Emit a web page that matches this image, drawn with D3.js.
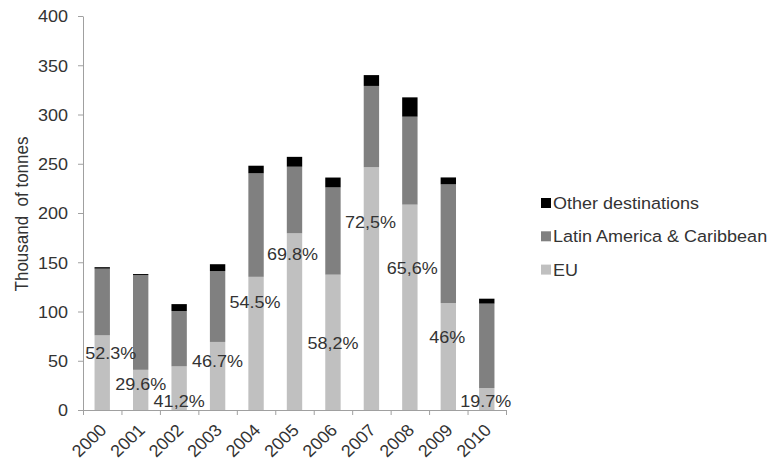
<!DOCTYPE html>
<html>
<head>
<meta charset="utf-8">
<script src="https://cdn.jsdelivr.net/npm/d3@7"></script>
<style>
  html, body { margin: 0; padding: 0; background: #fff; }
  svg { display: block; }
  text { font-family: "Liberation Sans", Arial, sans-serif; fill: #333; }
</style>
</head>
<body>
<svg id="chart" width="772" height="463"></svg>
<script>
// Exports by destination, thousand tonnes
const years = ["2000", "2001", "2002", "2003", "2004", "2005", "2006", "2007", "2008", "2009", "2010"];
const euValues = [75.8, 40.8, 44.3, 69.1, 135.2, 179.4, 137.4, 246.5, 208.5, 108.6, 22.3];
const latinValues = [67.7, 96.2, 56.2, 71.9, 105.1, 67.6, 88.6, 82.5, 89.3, 120.5, 85.7];
const otherValues = [1.5, 1.0, 7.0, 7.0, 7.7, 10.0, 10.0, 11.0, 19.6, 7.0, 5.0];
// EU share of each year's total, as printed on the bars
const shareLabels = ["52.3%", "29.6%", "41,2%", "46.7%", "54.5%", "69.8%", "58,2%", "72,5%", "65,6%", "46%", "19.7%"];
const yTicks = [0, 50, 100, 150, 200, 250, 300, 350, 400];
const seriesNames = ["EU", "Latin America & Caribbean", "Other destinations"];

// where each share label sits (value units on the y axis, pixel nudge in x)
const labelLevel = [57.4, 26.4, 9.1, 49.4, 109.6, 158.6, 68, 190.7, 144.4, 74.4, 9.3];
const labelNudge = [8.6, 0, 0, 0, -1, -2, 0, -1, 2.4, -1, -1];

const colors = { "EU": "#c0c0c0", "Latin America & Caribbean": "#808080", "Other destinations": "#000000" };
const axisColor = "#a0a0a0";
const fontSize = 17;
const stretch = "scale(1.06,1)";

const svg = d3.select("#chart");
const plotLeft = 83, plotRight = 506, plotTop = 16, plotBottom = 410;

const x = d3.scaleBand().domain(years).range([plotLeft, plotRight]).paddingInner(0.6).paddingOuter(0.3);
const xEdges = d3.scaleLinear().domain([0, years.length]).range([plotLeft, plotRight]);
const y = d3.scaleLinear().domain([0, 400]).range([plotBottom, plotTop]);

const rows = years.map((yr, i) => ({
  year: yr,
  "EU": euValues[i],
  "Latin America & Caribbean": latinValues[i],
  "Other destinations": otherValues[i]
}));
const stack = d3.stack().keys(seriesNames)(rows);

// stacked bars
svg.append("g").selectAll("g")
  .data(stack).join("g")
  .attr("fill", d => colors[d.key])
  .selectAll("rect")
  .data(d => d).join("rect")
  .attr("x", d => x(d.data.year))
  .attr("width", x.bandwidth())
  .attr("y", d => y(d[1]))
  .attr("height", d => y(d[0]) - y(d[1]));

// y axis
const yAxis = svg.append("g")
  .attr("transform", `translate(${plotLeft},0)`)
  .call(d3.axisLeft(y).tickValues(yTicks).tickSize(5).tickSizeOuter(0));
yAxis.attr("font-family", null).attr("font-size", null);
yAxis.select(".domain").attr("stroke", axisColor);
yAxis.selectAll(".tick line").attr("stroke", axisColor);
yAxis.selectAll(".tick text")
  .attr("x", null)
  .attr("fill", null)
  .attr("transform", `translate(-15,0) ${stretch}`)
  .attr("dy", "0.35em")
  .style("font-size", fontSize + "px");

// x axis: ticks on the category boundaries
const xAxis = svg.append("g")
  .attr("transform", `translate(0,${plotBottom})`)
  .call(d3.axisBottom(xEdges).tickValues(d3.range(years.length + 1)).tickSize(5).tickSizeOuter(0).tickFormat(""));
xAxis.select(".domain").attr("stroke", axisColor);
xAxis.selectAll(".tick line").attr("stroke", axisColor);

// rotated year labels
svg.append("g").selectAll("text")
  .data(years).join("text")
  .attr("transform", d => `translate(${x(d) + x.bandwidth() / 2 + 1},${plotBottom + 17}) ${stretch} rotate(-45)`)
  .attr("text-anchor", "end")
  .attr("dy", "0.35em")
  .style("font-size", fontSize + "px")
  .text(d => d);

// EU share labels
svg.append("g").selectAll("text")
  .data(years).join("text")
  .attr("transform", (d, i) => `translate(${x(d) + x.bandwidth() / 2 + labelNudge[i]},${y(labelLevel[i])}) ${stretch}`)
  .attr("text-anchor", "middle")
  .attr("dy", "0.35em")
  .style("font-size", fontSize + "px")
  .text((d, i) => shareLabels[i]);

// y axis title
svg.append("text")
  .attr("transform", `translate(22,214) ${stretch} rotate(-90)`)
  .attr("text-anchor", "middle")
  .attr("dy", "0.35em")
  .style("font-size", fontSize + "px")
  .style("white-space", "pre")
  .text("Thousand  of tonnes");

// legend, top entry first
const legendItems = seriesNames.slice().reverse();
const legend = svg.append("g").attr("transform", "translate(541,203)");
const item = legend.selectAll("g")
  .data(legendItems).join("g")
  .attr("transform", (d, i) => `translate(0,${i * 33.3})`);
item.append("rect")
  .attr("x", 0).attr("y", -5)
  .attr("width", 10).attr("height", 10)
  .attr("fill", d => colors[d]);
item.append("text")
  .attr("transform", `translate(12,0) ${stretch}`)
  .attr("dy", "0.35em")
  .style("font-size", fontSize + "px")
  .text(d => d);
</script>
</body>
</html>
